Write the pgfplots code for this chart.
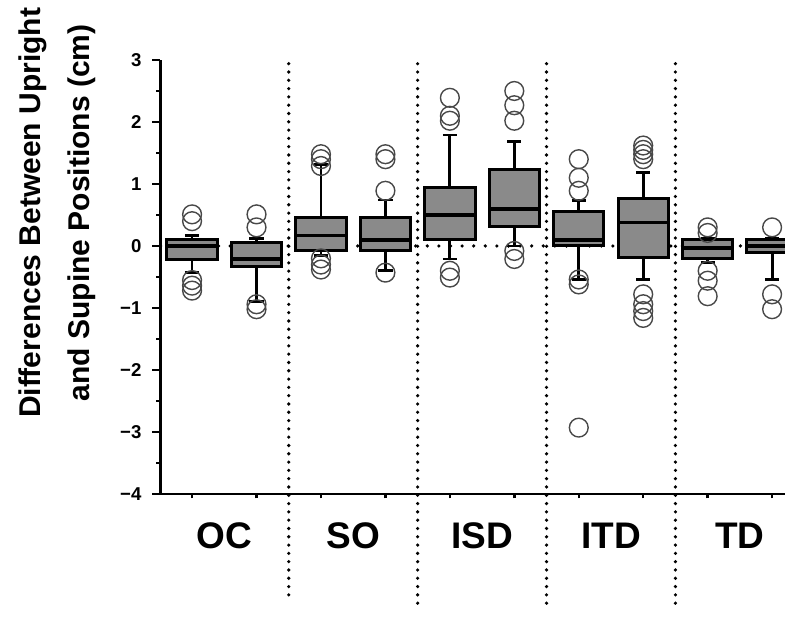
\documentclass[border=0pt]{standalone}
\usepackage{fontspec}
\setmainfont{Liberation Sans}
\usepackage{pgfplots}
\pgfplotsset{compat=1.18}
\usepgfplotslibrary{statistics}
\definecolor{boxgray}{RGB}{138,138,138}
\definecolor{ringgray}{RGB}{72,72,72}

\pgfplotsset{
  bx/.style={
    draw=black, line width=1.4pt,
    mark=o, mark size=4.7pt,
    mark options={draw=ringgray, line width=0.7pt, fill=none},
    boxplot/every box/.style={fill=boxgray, draw=black, line width=1.5pt},
    boxplot/every whisker/.style={line width=1.4pt},
    boxplot/every median/.style={line width=1.9pt},
  },
}
\tikzset{sep/.style={line width=1.8pt, line cap=round, dash pattern=on 0pt off 4.15pt, black}}

\begin{document}
\begin{tikzpicture}
\begin{axis}[
  scale only axis, width=312.25pt, height=217pt,
  xmin=-0.49, xmax=9.2, ymin=-4, ymax=3,
  axis x line=bottom, axis y line=left,
  axis line style={-, line width=1.4pt},
  tick align=outside, major tick length=4pt, minor tick length=2.2pt,
  tick style={line width=1.2pt, black},
  ytick={-4,...,3}, yticklabels={−4,−3,−2,−1,0,1,2,3},
  minor ytick={-3.5,-2.5,...,2.5},
  xtick={0.5,2.5,4.5,6.5,8.5}, xticklabels={OC,SO,ISD,ITD,TD},
  minor xtick={0,...,9},
  major x tick style={draw=none},
  yticklabel style={font=\bfseries\fontsize{9.3}{10}\selectfont, xshift=-2pt},
  xticklabel style={font=\bfseries\fontsize{18.5}{20}\selectfont, anchor=center, yshift=-17pt},
  ylabel={Differences Between Upright\\and Supine Positions (cm)},
  ylabel style={at={(axis description cs:-0.165,0.6475)}, anchor=center, align=center,
    font=\bfseries\fontsize{15}{24.5}\selectfont},
  clip=false,
  boxplot/draw direction=y,
  boxplot/box extend=0.78,
  boxplot/whisker extend=0.22,
]
% separators and zero line
\draw[sep] (axis cs:1.5,2.94) -- (axis cs:1.5,-5.7);
\draw[sep] (axis cs:3.5,2.94) -- (axis cs:3.5,-5.85);
\draw[sep] (axis cs:5.5,2.94) -- (axis cs:5.5,-5.85);
\draw[sep] (axis cs:7.5,2.94) -- (axis cs:7.5,-5.85);
\draw[sep, dash pattern=on 0pt off 5.8pt] (axis cs:-0.49,0) -- (axis cs:9.2,0);

% OC
\addplot[bx, boxplot prepared={draw position=0, lower whisker=-0.43, lower quartile=-0.22,
  median=0, upper quartile=0.11, upper whisker=0.17}]
  table[row sep=\\, y index=0] {0.51\\0.40\\-0.55\\-0.64\\-0.72\\};
\addplot[bx, boxplot prepared={draw position=1, lower whisker=-0.89, lower quartile=-0.33,
  median=-0.21, upper quartile=0.05, upper whisker=0.12}]
  table[row sep=\\, y index=0] {0.30\\0.51\\-0.94\\-1.02\\};
% SO
\addplot[bx, boxplot prepared={draw position=2, lower whisker=-0.15, lower quartile=-0.08,
  median=0.17, upper quartile=0.46, upper whisker=1.31}]
  table[row sep=\\, y index=0] {1.48\\1.40\\1.29\\-0.20\\-0.30\\-0.38\\};
\addplot[bx, boxplot prepared={draw position=3, lower whisker=-0.40, lower quartile=-0.08,
  median=0.10, upper quartile=0.46, upper whisker=0.74}]
  table[row sep=\\, y index=0] {0.89\\1.40\\1.48\\-0.43\\};
% ISD
\addplot[bx, boxplot prepared={draw position=4, lower whisker=-0.21, lower quartile=0.10,
  median=0.50, upper quartile=0.95, upper whisker=1.79}]
  table[row sep=\\, y index=0] {2.39\\2.10\\2.02\\-0.40\\-0.51\\};
\addplot[bx, boxplot prepared={draw position=5, lower whisker=0.0, lower quartile=0.31,
  median=0.60, upper quartile=1.23, upper whisker=1.69}]
  table[row sep=\\, y index=0] {2.50\\2.27\\2.02\\-0.08\\-0.21\\};
% ITD
\addplot[bx, boxplot prepared={draw position=6, lower whisker=-0.54, lower quartile=0.0,
  median=0.10, upper quartile=0.55, upper whisker=0.73}]
  table[row sep=\\, y index=0] {1.40\\1.10\\0.89\\-0.54\\-0.62\\-2.93\\};
\addplot[bx, boxplot prepared={draw position=7, lower whisker=-0.54, lower quartile=-0.19,
  median=0.38, upper quartile=0.77, upper whisker=1.19}]
  table[row sep=\\, y index=0] {1.62\\1.55\\1.48\\1.40\\-0.78\\-0.94\\-1.05\\-1.16\\};
% TD
\addplot[bx, boxplot prepared={draw position=8, lower whisker=-0.27, lower quartile=-0.21,
  median=-0.03, upper quartile=0.10, upper whisker=0.13}]
  table[row sep=\\, y index=0] {0.30\\0.21\\-0.40\\-0.56\\-0.81\\};
\addplot[bx, boxplot prepared={draw position=9, lower whisker=-0.54, lower quartile=-0.11,
  median=0.0, upper quartile=0.10, upper whisker=0.12}]
  table[row sep=\\, y index=0] {0.30\\-0.78\\-1.02\\};

\coordinate (bbl) at (axis description cs:-0.257,-0.3065);
\coordinate (btr) at (axis description cs:1,1.1382);
\end{axis}
\pgfresetboundingbox
\useasboundingbox (bbl) rectangle (btr);
\end{tikzpicture}
\end{document}
